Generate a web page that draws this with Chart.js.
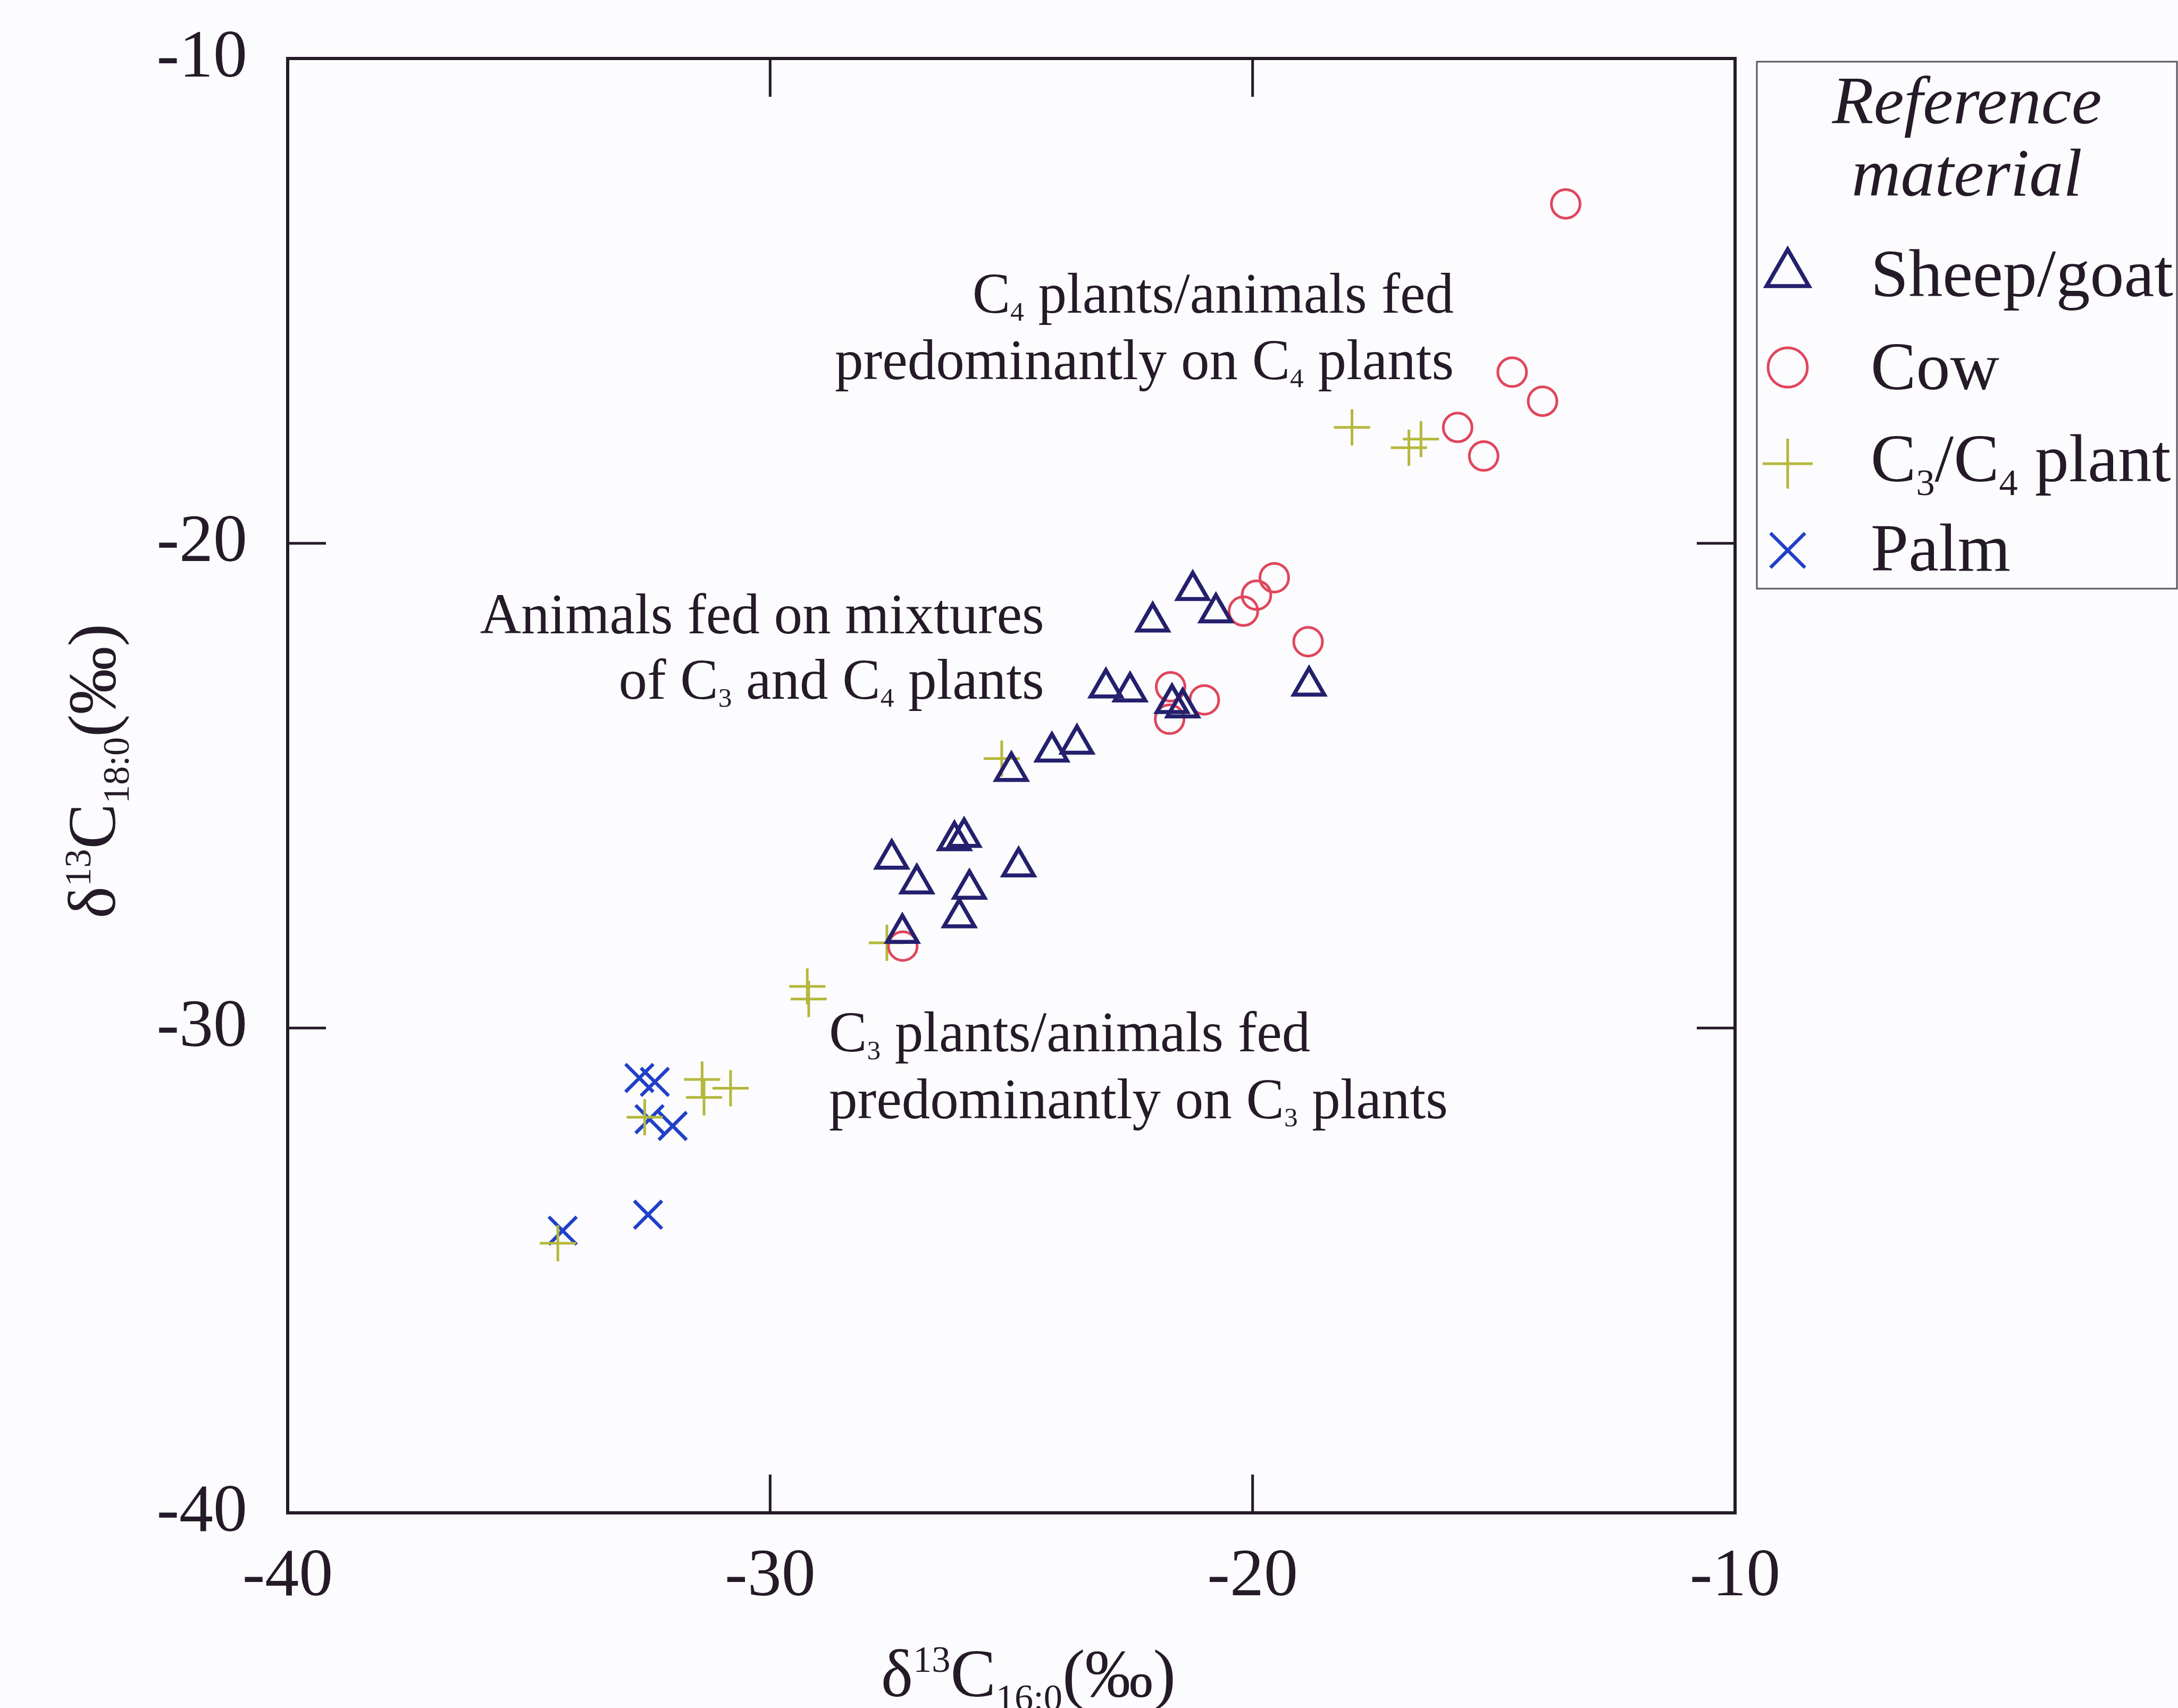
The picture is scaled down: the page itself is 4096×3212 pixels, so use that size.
<!DOCTYPE html>
<html>
<head>
<meta charset="utf-8">
<script src="https://cdn.jsdelivr.net/npm/chart.js@4.4.1/dist/chart.umd.min.js"></script>
<style>
  html, body { margin: 0; padding: 0; background: #fcfbfd; }
  #wrap { width: 4096px; height: 3212px; }
</style>
</head>
<body>
<div id="wrap"><canvas id="chart" width="4096" height="3212"></canvas></div>
<script>
// δ13C values (‰)
const sheepX = [-21.24, -20.76, -22.07, -18.83, -23.04, -22.54, -21.67, -21.45, -23.64, -24.16,
                -25.00, -27.48, -26.18, -25.98, -26.96, -24.85, -25.87, -26.08, -27.26];
const sheepY = [-20.97, -21.43, -21.62, -22.94, -22.98, -23.06, -23.30, -23.39, -24.14, -24.30,
                -24.70, -26.51, -26.13, -26.06, -27.02, -26.67, -27.13, -27.72, -28.04];

const cowX = [-13.51, -14.62, -13.99, -15.75, -15.21, -19.55, -19.92, -20.19, -18.85, -21.70,
              -21.00, -21.72, -27.25];
const cowY = [-13.00, -16.47, -17.07, -17.61, -18.20, -20.71, -21.07, -21.40, -22.03, -22.96,
              -23.23, -23.63, -28.31];

const plantX = [-17.94, -16.76, -16.51, -25.20, -27.58, -29.23, -29.20, -31.41, -31.37, -30.82,
                -32.60, -34.40];
const plantY = [-17.61, -18.03, -17.85, -24.44, -28.24, -29.14, -29.40, -31.06, -31.43, -31.24,
                -31.84, -34.44];

const palmX = [-32.71, -32.39, -32.50, -32.02, -32.53, -34.30];
const palmY = [-31.03, -31.11, -31.88, -32.02, -33.85, -34.18];

const seriesNames = ['Sheep/goat', 'Cow', 'C3/C4 plant', 'Palm'];
const axisMin = -40, axisMax = -10, axisStep = 10;
const innerTicks = [-30, -20];

const fontFamily = "'Liberation Serif', 'Times New Roman', Times, serif";
const ink = '#241a28';

// text with sub/superscripts, as runs
const legendRuns = [
    [{ t: 'Sheep/goat' }],
    [{ t: 'Cow' }],
    [{ t: 'C' }, { t: '3', sub: true }, { t: '/C' }, { t: '4', sub: true }, { t: ' plant' }],
    [{ t: 'Palm' }]
];
const xTitleRuns = [{ t: 'δ' }, { t: '13', sup: true }, { t: 'C' }, { t: '16:0', sub: true }, { t: '(‰)' }];
const yTitleRuns = [{ t: 'δ' }, { t: '13', sup: true }, { t: 'C' }, { t: '18:0', sub: true }, { t: '(‰)' }];

// region labels, anchored in data units
const notes = [
    { x: -15.83, y: [-15.24, -16.61], align: 'right', lines: [
        [{ t: 'C' }, { t: '4', sub: true }, { t: ' plants/animals fed' }],
        [{ t: 'predominantly on C' }, { t: '4', sub: true }, { t: ' plants' }]] },
    { x: -24.32, y: [-21.86, -23.21], align: 'right', lines: [
        [{ t: 'Animals fed on mixtures' }],
        [{ t: 'of C' }, { t: '3', sub: true }, { t: ' and C' }, { t: '4', sub: true }, { t: ' plants' }]] },
    { x: -28.78, y: [-30.48, -31.86], align: 'left', lines: [
        [{ t: 'C' }, { t: '3', sub: true }, { t: ' plants/animals fed' }],
        [{ t: 'predominantly on C' }, { t: '3', sub: true }, { t: ' plants' }]] }
];

function toPoints(xs, ys) {
    return xs.map((x, i) => ({ x: x, y: ys[i] }));
}

function drawRuns(ctx, runs, x, y, size, align, opts) {
    const o = Object.assign({ subScale: 0.55, subDy: 0.2, supDy: -0.36, italic: false }, opts || {});
    let total = 0;
    const parts = runs.map(r => {
        const s = (r.sub || r.sup) ? size * o.subScale : size;
        ctx.font = (o.italic ? 'italic ' : '') + s + 'px ' + fontFamily;
        const w = ctx.measureText(r.t).width;
        total += w;
        return { r: r, s: s, w: w };
    });
    let cx = align === 'right' ? x - total : align === 'center' ? x - total / 2 : x;
    ctx.textAlign = 'left';
    ctx.textBaseline = 'alphabetic';
    parts.forEach(p => {
        ctx.font = (o.italic ? 'italic ' : '') + p.s + 'px ' + fontFamily;
        const dy = p.r.sub ? size * o.subDy : p.r.sup ? size * o.supDy : 0;
        ctx.fillText(p.r.t, cx, y + dy);
        cx += p.w;
    });
}

const overlay = {
    id: 'overlay',
    beforeDraw(chart) {
        const ctx = chart.ctx;
        ctx.save();
        ctx.fillStyle = '#fcfbfd';
        ctx.fillRect(0, 0, chart.width, chart.height);
        ctx.restore();
    },
    afterDraw(chart) {
        const { ctx, chartArea: a } = chart;
        const xs = chart.scales.x, ys = chart.scales.y;
        ctx.save();

        // frame and inward ticks
        ctx.strokeStyle = ink;
        ctx.lineWidth = 6;
        ctx.strokeRect(a.left, a.top, a.right - a.left, a.bottom - a.top);
        const tickLen = 72;
        ctx.lineWidth = 5;
        innerTicks.forEach(v => {
            const px = xs.getPixelForValue(v), py = ys.getPixelForValue(v);
            ctx.beginPath();
            ctx.moveTo(px, a.bottom); ctx.lineTo(px, a.bottom - tickLen);
            ctx.moveTo(px, a.top); ctx.lineTo(px, a.top + tickLen);
            ctx.moveTo(a.left, py); ctx.lineTo(a.left + tickLen, py);
            ctx.moveTo(a.right, py); ctx.lineTo(a.right - tickLen, py);
            ctx.stroke();
        });

        // region labels
        ctx.fillStyle = ink;
        notes.forEach(n => {
            const px = xs.getPixelForValue(n.x);
            n.lines.forEach((line, i) => {
                drawRuns(ctx, line, px, ys.getPixelForValue(n.y[i]), 107, n.align,
                    { subScale: 0.48, subDy: 0.14 });
            });
        });

        // axis titles
        drawRuns(ctx, xTitleRuns, 1934, 3190, 128, 'center');
        ctx.save();
        ctx.translate(216, 1450);
        ctx.rotate(-Math.PI / 2);
        drawRuns(ctx, yTitleRuns, 0, 0, 128, 'center');
        ctx.restore();

        // legend
        const box = { left: 3304, top: 116, right: 4094, bottom: 1107 };
        ctx.strokeStyle = '#5a5660';
        ctx.lineWidth = 3;
        ctx.strokeRect(box.left, box.top, box.right - box.left, box.bottom - box.top);
        ctx.fillStyle = ink;
        drawRuns(ctx, [{ t: 'Reference' }], 3699, 232, 128, 'center', { italic: true });
        drawRuns(ctx, [{ t: 'material' }], 3699, 368, 128, 'center', { italic: true });
        const markerY = [515, 691, 872, 1035];
        const textY = [557, 732, 905, 1073];
        const legendRadius = [46, 37, 47, 46];
        chart.data.datasets.forEach((ds, i) => {
            ctx.strokeStyle = ds.pointBorderColor;
            ctx.fillStyle = 'rgba(0,0,0,0)';
            ctx.lineWidth = ds.pointBorderWidth;
            Chart.helpers.drawPoint(ctx, {
                pointStyle: ds.pointStyle, radius: legendRadius[i],
                borderWidth: ds.pointBorderWidth, rotation: 0
            }, 3362, markerY[i]);
            ctx.fillStyle = ink;
            drawRuns(ctx, legendRuns[i], 3518, textY[i], 128, 'left');
        });
        ctx.restore();
    }
};

const tickFont = { family: fontFamily, size: 128 };

new Chart(document.getElementById('chart').getContext('2d'), {
    type: 'scatter',
    data: {
        datasets: [
            {
                label: seriesNames[0], data: toPoints(sheepX, sheepY),
                pointStyle: 'triangle', pointRadius: 33, pointBorderWidth: 7.5,
                pointBorderColor: '#24206e', pointBackgroundColor: 'rgba(0,0,0,0)'
            },
            {
                label: seriesNames[1], data: toPoints(cowX, cowY),
                pointStyle: 'circle', pointRadius: 27, pointBorderWidth: 5,
                pointBorderColor: '#e0465c', pointBackgroundColor: 'rgba(0,0,0,0)'
            },
            {
                label: seriesNames[2], data: toPoints(plantX, plantY),
                pointStyle: 'cross', pointRadius: 34, pointBorderWidth: 5,
                pointBorderColor: '#b4b83c', pointBackgroundColor: 'rgba(0,0,0,0)'
            },
            {
                label: seriesNames[3], data: toPoints(palmX, palmY),
                pointStyle: 'crossRot', pointRadius: 37, pointBorderWidth: 6.5,
                pointBorderColor: '#2040c8', pointBackgroundColor: 'rgba(0,0,0,0)'
            }
        ]
    },
    options: {
        responsive: false,
        animation: false,
        devicePixelRatio: 1,
        layout: { padding: { top: 110, right: 833, left: 0, bottom: 0 } },
        plugins: {
            legend: { display: false },
            tooltip: { enabled: false }
        },
        scales: {
            x: {
                type: 'linear', position: 'bottom',
                min: axisMin, max: axisMax,
                grid: { display: false, drawTicks: false },
                border: { display: false },
                ticks: { stepSize: axisStep, font: tickFont, color: ink, padding: 45, maxRotation: 0 },
                afterFit: s => { s.height = 367; s.paddingLeft = 0; s.paddingRight = 0; }
            },
            y: {
                type: 'linear', position: 'left',
                min: axisMin, max: axisMax,
                grid: { display: false, drawTicks: false },
                border: { display: false },
                ticks: { stepSize: axisStep, font: tickFont, color: ink, padding: 76 },
                afterFit: s => { s.width = 541; s.paddingTop = 0; s.paddingBottom = 0; }
            }
        }
    },
    plugins: [overlay]
});
</script>
</body>
</html>
